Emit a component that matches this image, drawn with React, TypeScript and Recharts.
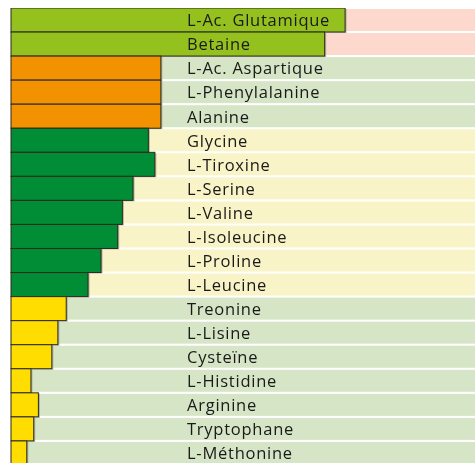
import React from "react";
import { BarChart, Bar, XAxis, YAxis, LabelList } from "recharts";

const aminoAcids = [
  "L-Ac. Glutamique",
  "Betaine",
  "L-Ac. Aspartique",
  "L-Phenylalanine",
  "Alanine",
  "Glycine",
  "L-Tiroxine",
  "L-Serine",
  "L-Valine",
  "L-Isoleucine",
  "L-Proline",
  "L-Leucine",
  "Treonine",
  "L-Lisine",
  "Cysteïne",
  "L-Histidine",
  "Arginine",
  "Tryptophane",
  "L-Méthonine",
];

const amounts = [72.0, 67.6, 32.3, 32.3, 32.3, 29.6, 31.0, 26.3, 24.0, 23.0, 19.4, 16.6, 11.9, 10.1, 8.8, 4.3, 5.9, 4.9, 3.4];

const groups = ["a", "a", "b", "b", "b", "c", "c", "c", "c", "c", "c", "c", "d", "d", "d", "d", "d", "d", "d"];

const fullScale = 100;

const barColor: Record<string, string> = { a: "#95c11f", b: "#f39200", c: "#008d36", d: "#ffdd00" };
const bandColor: Record<string, string> = { a: "#fdd9cd", b: "#d6e5c6", c: "#f8f4c7", d: "#d6e5c6" };

const data = aminoAcids.map((name, i) => ({
  name,
  value: amounts[i],
  band: fullScale,
  group: groups[i],
}));

const BandShape = (props: any) => {
  const { x, y, width, height, payload } = props;
  return <rect x={x} y={y} width={width} height={height} fill={bandColor[payload.group]} />;
};

const BarShape = (props: any) => {
  const { x, y, width, height, payload } = props;
  return (
    <g>
      <rect x={x + 1.5} y={y + 1} width={width} height={height} fill="#8a8a80" opacity={0.6} />
      <rect x={x} y={y} width={width} height={height} fill={barColor[payload.group]} stroke="#2b2b1c" strokeWidth={1} />
    </g>
  );
};

const NameLabel = (props: any) => {
  const { x, y, height, value } = props;
  return (
    <text
      x={x + 176}
      y={y + height / 2 + 6.3}
      fontSize={16.5}
      letterSpacing={0.75}
      fill="#1a1a1a"
      fontFamily="'Open Sans', sans-serif"
    >
      {value}
    </text>
  );
};

export default function App() {
  return (
    <div style={{ position: "fixed", left: 8, top: 8, width: 467, height: 455, overflow: "hidden" }}>
      <BarChart
        width={467}
        height={457}
        data={data}
        layout="vertical"
        margin={{ top: 0, right: 0, bottom: 0, left: 3 }}
      >
        <XAxis type="number" domain={[0, fullScale]} hide />
        <YAxis yAxisId="bg" type="category" dataKey="name" hide />
        <YAxis yAxisId="fg" type="category" dataKey="name" hide />
        <Bar yAxisId="bg" dataKey="band" barSize={22} shape={BandShape} isAnimationActive={false} />
        <Bar yAxisId="fg" dataKey="value" barSize={24} shape={BarShape} isAnimationActive={false}>
          <LabelList dataKey="name" content={NameLabel} />
        </Bar>
      </BarChart>
    </div>
  );
}
